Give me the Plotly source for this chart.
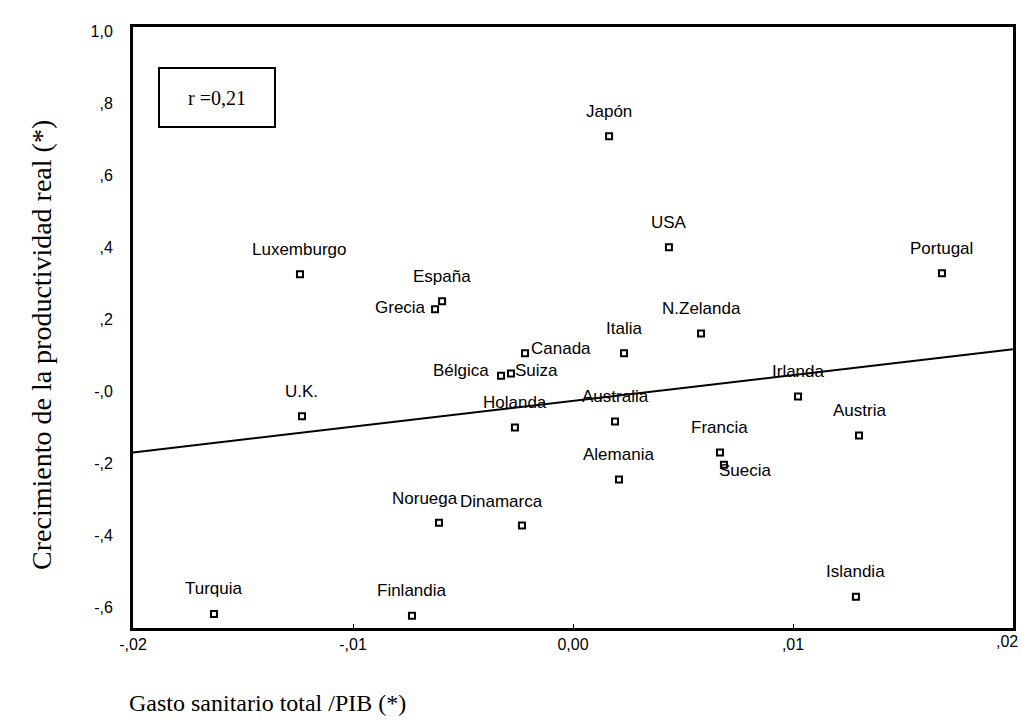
import plotly.graph_objects as go

countries = ["Japón", "USA", "Portugal", "Luxemburgo", "España", "Grecia", "N.Zelanda",
             "Italia", "Canada", "Bélgica", "Suiza", "U.K.", "Irlanda", "Holanda",
             "Australia", "Austria", "Francia", "Suecia", "Alemania", "Noruega",
             "Dinamarca", "Islandia", "Turquia", "Finlandia"]
gasto = [0.00164, 0.00436, 0.01677, -0.01241, -0.00595, -0.00627, 0.00582,
         0.00232, -0.00218, -0.00327, -0.00282, -0.01232, 0.01023, -0.00264,
         0.00191, 0.01300, 0.00668, 0.00686, 0.00209, -0.00609,
         -0.00232, 0.01286, -0.01632, -0.00732]
productividad = [0.708, 0.400, 0.328, 0.325, 0.250, 0.228, 0.161,
                 0.106, 0.106, 0.044, 0.050, -0.069, -0.014, -0.100,
                 -0.083, -0.122, -0.169, -0.203, -0.244, -0.364,
                 -0.372, -0.569, -0.617, -0.622]
fit_x = [-0.02, 0.02]
fit_y = [-0.169, 0.117]
x_ticks = [-0.02, -0.01, 0.0, 0.01, 0.02]
x_tick_labels = ["-,02", "-,01", "0,00", ",01", ",02"]
y_ticks = [1.0, 0.8, 0.6, 0.4, 0.2, 0.0, -0.2, -0.4, -0.6]
y_tick_labels = ["1,0", ",8", ",6", ",4", ",2", "-,0", "-,2", "-,4", "-,6"]

# label placement (style only): (xanchor, xshift, yshift)
label_pos = {
    "Bélgica": ("right", -10, 5),
    "Suiza": ("left", 2, 3),
    "Canada": ("left", 4, 5),
    "Grecia": ("right", -7, 2),
    "Suecia": ("left", -7, -6),
    "Noruega": ("center", -14, 24),
    "Dinamarca": ("center", -20, 24),
}

fig = go.Figure()
fig.add_trace(go.Scatter(x=fit_x, y=fit_y, mode="lines",
                         line=dict(color="black", width=2), hoverinfo="skip"))
fig.add_trace(go.Scatter(x=gasto, y=productividad, mode="markers",
                         marker=dict(symbol="square-open", size=6, color="black",
                                     line=dict(width=2, color="black")),
                         text=countries))

lab_font = dict(family="Liberation Sans, Arial", size=17, color="black")
tick_font = dict(family="Liberation Sans, Arial", size=16, color="black")
serif = "Liberation Serif, Times New Roman"
ann = []
for c, xv, yv in zip(countries, gasto, productividad):
    xa, xs, ys = label_pos.get(c, ("center", 0, 25))
    ann.append(dict(x=xv, y=yv, text=c, showarrow=False, xanchor=xa, yanchor="middle",
                    xshift=xs, yshift=ys, font=lab_font))
# last x tick label (would be dropped by plotly because it overflows the page edge)
ann.append(dict(x=x_ticks[-1], xref="x", yref="paper", y=0, xanchor="center", yanchor="top",
                xshift=-6, yshift=-3, text=x_tick_labels[-1], showarrow=False, font=tick_font))
ann.append(dict(xref="paper", yref="paper", x=-0.007, y=-0.1, xanchor="left", yanchor="top",
                text="Gasto sanitario total /PIB (*)", showarrow=False,
                font=dict(family=serif, size=24, color="black")))
ann.append(dict(xref="paper", yref="paper", x=-0.1034, y=0.471, xanchor="center",
                yanchor="middle", textangle=-90,
                text="Crecimiento de la productividad real (*)", showarrow=False,
                font=dict(family=serif, size=28, color="black")))
ann.append(dict(xref="paper", yref="paper", x=0.0284, y=0.9333, xanchor="left", yanchor="top",
                text="r =0,21", showarrow=False, width=110, height=53, align="center",
                valign="middle",
                bordercolor="black", borderwidth=2, borderpad=2, bgcolor="white",
                font=dict(family=serif, size=20, color="black")))
fig.update_layout(annotations=ann)

fig.update_xaxes(range=[-0.02, 0.02], tickvals=x_ticks, ticktext=x_tick_labels,
                 showgrid=False, zeroline=False, showline=True, linecolor="black",
                 linewidth=3, mirror=True, ticks="inside", ticklen=4, tickcolor="black",
                 tickfont=tick_font, automargin=False)
fig.update_yaxes(range=[-0.656, 1.011], tickvals=y_ticks, ticktext=y_tick_labels,
                 showgrid=False, zeroline=False, showline=True, linecolor="black",
                 linewidth=3, mirror=True, ticks="", ticklabelstandoff=14,
                 tickfont=tick_font, automargin=False)
fig.update_layout(width=1022, height=725, showlegend=False,
                  plot_bgcolor="white", paper_bgcolor="white",
                  margin=dict(l=133, r=9, t=27, b=97))
fig.write_html("out.html", config={"displayModeBar": False},
               post_script="document.body.style.margin='0';document.body.style.overflow='hidden';")
